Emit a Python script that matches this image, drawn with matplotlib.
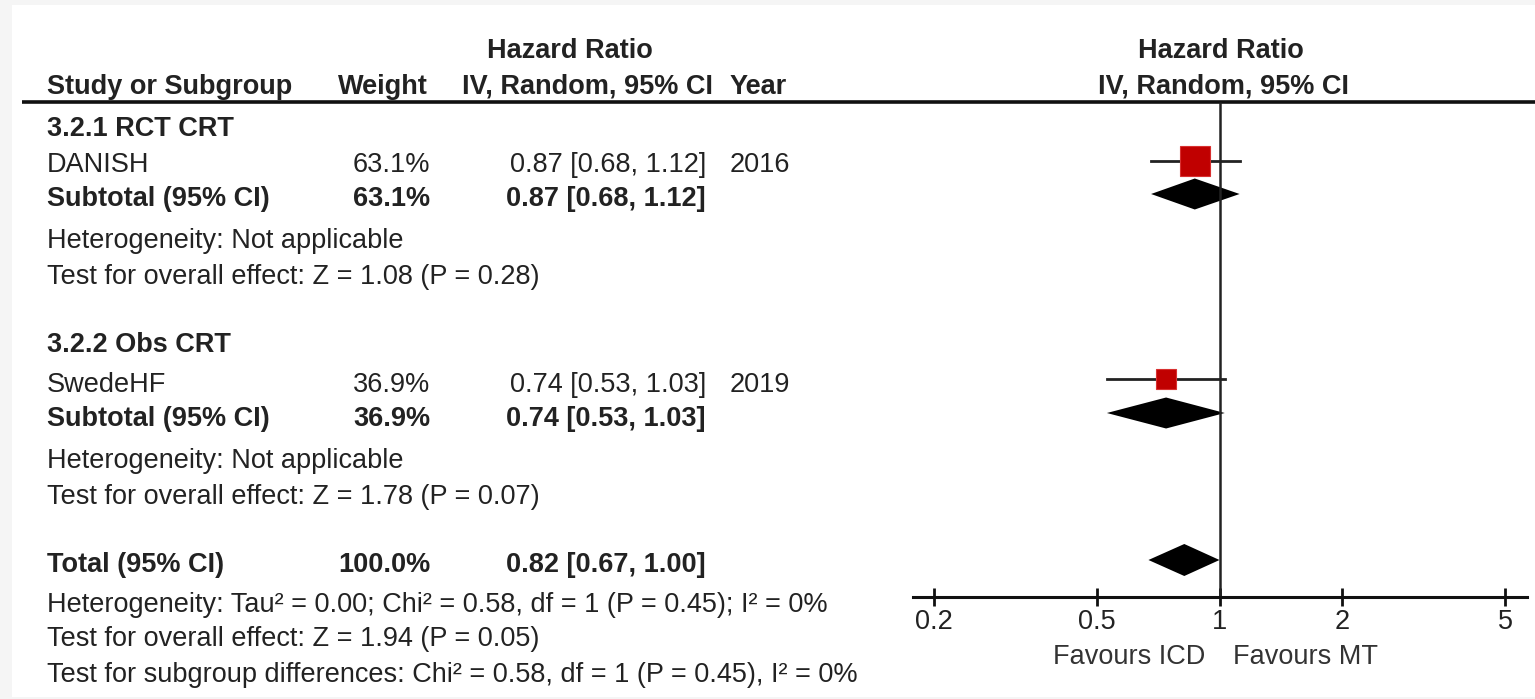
import matplotlib.pyplot as plt
import numpy as np
from matplotlib.patches import Rectangle

plt.rcParams['font.family'] = ['Liberation Sans', 'DejaVu Sans']

# ---- data ----
groups = ['3.2.1 RCT CRT', '3.2.2 Obs CRT']
studies = ['DANISH', 'SwedeHF']
years = ['2016', '2019']
weights = [63.1, 36.9]
hr = [0.87, 0.74]
ci_lo = [0.68, 0.53]
ci_hi = [1.12, 1.03]
sub_weights = [63.1, 36.9]
sub_hr = [0.87, 0.74]
sub_lo = [0.68, 0.53]
sub_hi = [1.12, 1.03]
sub_het = ['Heterogeneity: Not applicable', 'Heterogeneity: Not applicable']
sub_test = ['Test for overall effect: Z = 1.08 (P = 0.28)',
            'Test for overall effect: Z = 1.78 (P = 0.07)']
total_weight = 100.0
total_hr, total_lo, total_hi = 0.82, 0.67, 1.00
total_notes = ['Heterogeneity: Tau\u00b2 = 0.00; Chi\u00b2 = 0.58, df = 1 (P = 0.45); I\u00b2 = 0%',
               'Test for overall effect: Z = 1.94 (P = 0.05)',
               'Test for subgroup differences: Chi\u00b2 = 0.58, df = 1 (P = 0.45), I\u00b2 = 0%']
xticks = [0.2, 0.5, 1, 2, 5]
xtick_labels = ['0.2', '0.5', '1', '2', '5']

# ---- layout (pixel rows) ----
W, H = 1535, 699
TXT = '#222222'
FS = 19.5
RED = '#c00000'
DY = 2.5  # text baseline nudge

fig = plt.figure(figsize=(W / 100, H / 100), dpi=100, facecolor='#f5f5f5')
bg = fig.add_axes([0, 0, 1, 1])
bg.set_xlim(0, W)
bg.set_ylim(H, 0)
bg.axis('off')
bg.add_patch(Rectangle((12, 5), W - 12, H - 7, facecolor='white', edgecolor='none'))

x_name, x_weight, x_ci, x_year = 47, 430, 706, 730

def txt(x, y, s, ha='left', bold=False):
    bg.text(x, y + DY, s, ha=ha, va='center', fontsize=FS, color=TXT,
            fontweight='bold' if bold else 'normal')

# headers
txt(570, 49, 'Hazard Ratio', ha='center', bold=True)
txt(x_name, 84.5, 'Study or Subgroup', bold=True)
txt(428, 84.5, 'Weight', ha='right', bold=True)
txt(462, 84.5, 'IV, Random, 95% CI', bold=True)
txt(x_year, 84.5, 'Year', bold=True)
txt(1221, 49, 'Hazard Ratio', ha='center', bold=True)
txt(1223, 84.5, 'IV, Random, 95% CI', ha='center', bold=True)
bg.plot([22, W], [102, 102], color='#111111', lw=2.6, solid_capstyle='butt')

group_rows = [(127, 163, 197, 239, 274), (343, 382, 416, 458, 494)]
for i, (yg, ys, ysub, yh, yt) in enumerate(group_rows):
    txt(x_name, yg, groups[i], bold=True)
    txt(x_name, ys, studies[i])
    txt(x_weight, ys, f'{weights[i]:.1f}%', ha='right')
    txt(x_ci, ys, f'{hr[i]:.2f} [{ci_lo[i]:.2f}, {ci_hi[i]:.2f}]', ha='right')
    txt(x_year, ys, years[i])
    txt(x_name, ysub, 'Subtotal (95% CI)', bold=True)
    txt(x_weight, ysub, f'{sub_weights[i]:.1f}%', ha='right', bold=True)
    txt(x_ci, ysub, f'{sub_hr[i]:.2f} [{sub_lo[i]:.2f}, {sub_hi[i]:.2f}]', ha='right', bold=True)
    txt(x_name, yh, sub_het[i])
    txt(x_name, yt, sub_test[i])

txt(x_name, 562, 'Total (95% CI)', bold=True)
txt(x_weight, 562, f'{total_weight:.1f}%', ha='right', bold=True)
txt(x_ci, 562, f'{total_hr:.2f} [{total_lo:.2f}, {total_hi:.2f}]', ha='right', bold=True)
for y, s in zip([603, 637, 672], total_notes):
    txt(x_name, y, s)

# ---- forest panel ----
x0, x1, x_one, px_dec = 913, 1527, 1219.5, 408.5
fx = fig.add_axes([x0 / W, 0, (x1 - x0) / W, 1])
fx.set_xscale('log')
fx.set_xlim(10 ** ((x0 - x_one) / px_dec), 10 ** ((x1 - x_one) / px_dec))
fx.set_ylim(H, 0)
fx.patch.set_alpha(0)
for s in ['top', 'right', 'left']:
    fx.spines[s].set_visible(False)
fx.spines['bottom'].set_position(('data', 597))
fx.spines['bottom'].set_linewidth(2.2)
fx.spines['bottom'].set_color('#111111')
fx.set_yticks([])
fx.set_xticks(xticks)
fx.set_xticklabels(xtick_labels)
fx.minorticks_off()
fx.tick_params(axis='x', direction='inout', length=13, width=2, color='#111111',
               labelsize=FS, labelcolor=TXT, pad=2)

fx.vlines(1, 102, 597, color='#222222', lw=1.8)

study_y = [161, 379]
sub_y = [194, 413]
for i in range(2):
    fx.plot([ci_lo[i], ci_hi[i]], [study_y[i], study_y[i]], color='#222222', lw=2)
    fx.plot(hr[i], study_y[i], marker='s', color=RED, mec='#d83030', mew=0.8,
            ms=2.63 * np.sqrt(weights[i]) * 0.93 ** (i), ls='none')
    yy = sub_y[i]
    fx.fill([sub_lo[i], sub_hr[i], sub_hi[i], sub_hr[i]], [yy, yy - 15.5, yy, yy + 15.5],
            color='black', lw=0)

fx.fill([total_lo, total_hr, total_hi, total_hr], [560, 544, 560, 576], color='black', lw=0)

fx.text(10 ** ((1205 - x_one) / px_dec), 655 + DY, 'Favours ICD', ha='right', va='center',
        fontsize=FS, color='#333333')
fx.text(10 ** ((1233 - x_one) / px_dec), 655 + DY, 'Favours MT', ha='left', va='center',
        fontsize=FS, color='#333333')

fig.savefig('out.png', dpi=100, facecolor=fig.get_facecolor())
